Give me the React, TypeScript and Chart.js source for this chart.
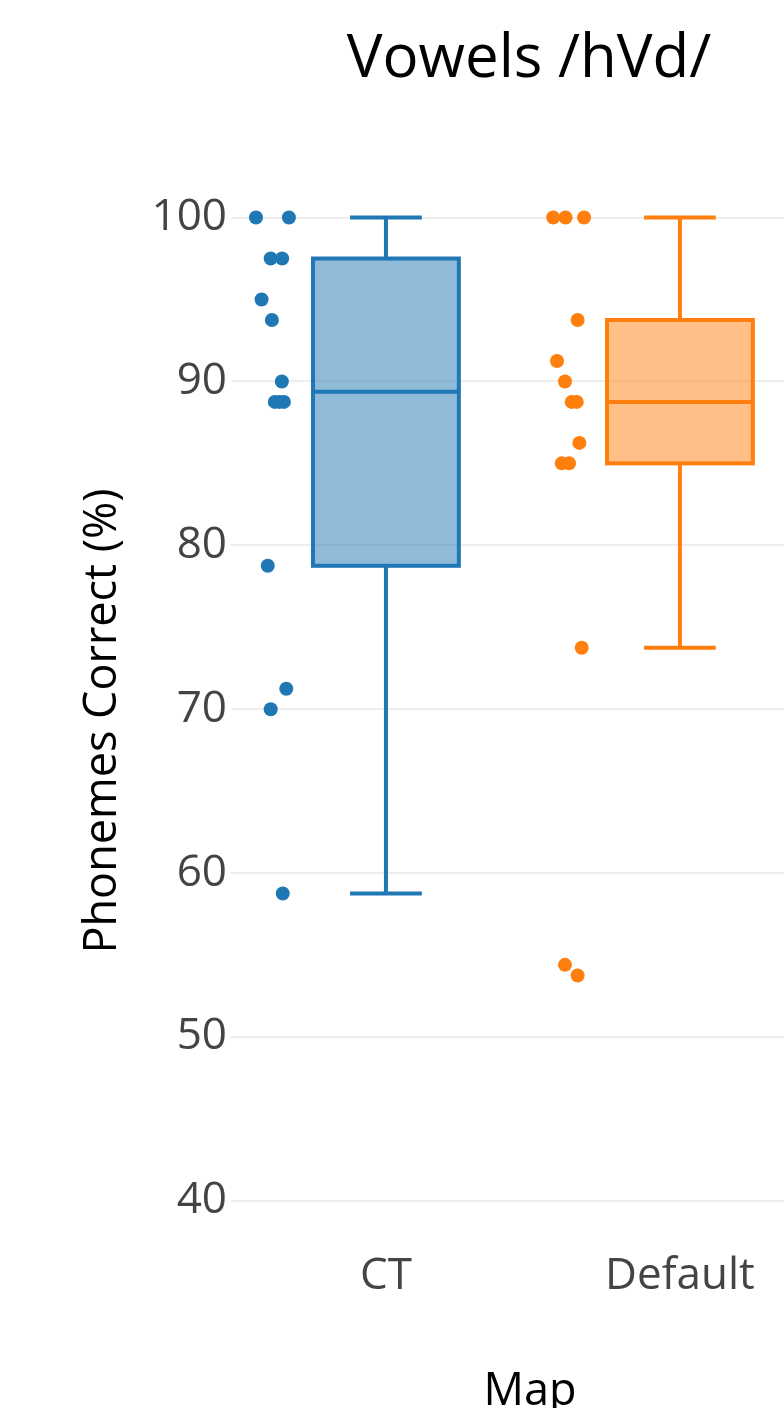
import React, { useEffect, useRef } from "react";
import { Chart, registerables } from "chart.js";

Chart.register(...registerables);

// ---- data ----
const categories = ["CT", "Default"];
const yTickValues = [40, 50, 60, 70, 80, 90, 100];

const ctPoints = [100, 100, 97.5, 97.5, 95, 93.75, 90, 88.75, 88.75, 88.75, 78.75, 71.25, 70, 58.75];
const ctJitter = [-0.442, -0.33, -0.392, -0.353, -0.423, -0.388, -0.354, -0.378, -0.347, -0.362, -0.402, -0.339, -0.392, -0.351];

const defaultPoints = [100, 100, 100, 93.75, 91.25, 90, 88.75, 88.75, 86.25, 85, 85, 73.75, 54.4, 53.75];
const defaultJitter = [-0.431, -0.389, -0.326, -0.348, -0.418, -0.391, -0.368, -0.351, -0.342, -0.402, -0.377, -0.334, -0.391, -0.348];

const boxMin = [58.75, 73.75];
const boxQ1 = [78.75, 85];
const boxMedian = [89.375, 88.75];
const boxQ3 = [97.5, 93.75];
const boxMax = [100, 100];

const lineColors = ["#1f77b4", "#ff7f0e"];
const fillColors = ["rgba(31,119,180,0.5)", "rgba(255,127,14,0.5)"];

const FONT = "'Open Sans', 'DejaVu Sans', sans-serif";

const boxPlugin = {
  id: "boxPlot",
  beforeDatasetsDraw(chart: any) {
    const { ctx, scales } = chart;
    const x = scales.x;
    const y = scales.y;
    ctx.save();
    categories.forEach((_, i) => {
      const cx = x.getPixelForValue(i);
      const l = x.getPixelForValue(i - 0.248);
      const r = x.getPixelForValue(i + 0.248);
      const cl = x.getPixelForValue(i - 0.122);
      const cr = x.getPixelForValue(i + 0.122);
      const yMin = y.getPixelForValue(boxMin[i]);
      const yQ1 = y.getPixelForValue(boxQ1[i]);
      const yMed = y.getPixelForValue(boxMedian[i]);
      const yQ3 = y.getPixelForValue(boxQ3[i]);
      const yMax = y.getPixelForValue(boxMax[i]);
      ctx.fillStyle = fillColors[i];
      ctx.fillRect(l, yQ3, r - l, yQ1 - yQ3);
      ctx.strokeStyle = lineColors[i];
      ctx.lineWidth = 4;
      ctx.lineCap = "butt";
      ctx.strokeRect(l, yQ3, r - l, yQ1 - yQ3);
      ctx.beginPath();
      ctx.moveTo(l, yMed);
      ctx.lineTo(r, yMed);
      ctx.moveTo(cx, yQ3);
      ctx.lineTo(cx, yMax);
      ctx.moveTo(cx, yQ1);
      ctx.lineTo(cx, yMin);
      ctx.moveTo(cl, yMax);
      ctx.lineTo(cr, yMax);
      ctx.moveTo(cl, yMin);
      ctx.lineTo(cr, yMin);
      ctx.stroke();
    });
    ctx.restore();
  },
};

const textPlugin = {
  id: "plotTexts",
  afterDraw(chart: any) {
    const { ctx } = chart;
    ctx.save();
    ctx.fillStyle = "#000";
    ctx.textAlign = "center";
    ctx.textBaseline = "alphabetic";
    ctx.font = `60px ${FONT}`;
    ctx.fillText("Vowels /hVd/", 529, 77);
    ctx.font = `45px ${FONT}`;
    ctx.fillText("Map", 530, 1405);
    ctx.translate(116, 721);
    ctx.rotate(-Math.PI / 2);
    ctx.fillText("Phonemes Correct (%)", 0, 0);
    ctx.restore();
  },
};

export default function App() {
  const ref = useRef<HTMLCanvasElement | null>(null);
  useEffect(() => {
    document.body.style.margin = "0";
    const canvas = ref.current;
    if (!canvas) return;
    const chart = new Chart(canvas, {
      type: "scatter",
      data: {
        datasets: [
          {
            label: categories[0],
            data: ctPoints.map((v, i) => ({ x: 0 + ctJitter[i], y: v })),
            backgroundColor: lineColors[0],
            borderWidth: 0,
            pointRadius: 7,
          },
          {
            label: categories[1],
            data: defaultPoints.map((v, i) => ({ x: 1 + defaultJitter[i], y: v })),
            backgroundColor: lineColors[1],
            borderWidth: 0,
            pointRadius: 7,
          },
        ],
      },
      options: {
        animation: false,
        responsive: false,
        events: [],
        layout: { autoPadding: false, padding: { top: 152, left: 0, right: 0, bottom: 0 } },
        plugins: {
          legend: { display: false },
          tooltip: { enabled: false },
          title: { display: false },
        },
        scales: {
          x: {
            type: "linear",
            min: -0.527,
            max: 1.354,
            afterBuildTicks: (s: any) => {
              s.ticks = categories.map((_, i) => ({ value: i }));
            },
            afterFit: (s: any) => {
              s.height = 158;
            },
            ticks: {
              callback: (v: any) => categories[v as number] ?? "",
              font: { family: FONT, size: 44 },
              color: "#444",
              padding: 0,
              maxRotation: 0,
              autoSkip: false,
            },
            grid: { display: false, drawTicks: false },
            border: { display: false },
          },
          y: {
            type: "linear",
            min: 37,
            max: 104,
            afterBuildTicks: (s: any) => {
              s.ticks = yTickValues.map((v) => ({ value: v }));
            },
            afterFit: (s: any) => {
              s.width = 231;
            },
            ticks: {
              font: { family: FONT, size: 44 },
              color: "#444",
              padding: 4,
            },
            grid: { color: "#eeeeee", lineWidth: 2, drawTicks: false },
            border: { display: false },
          },
        },
      },
      plugins: [boxPlugin, textPlugin],
    });
    return () => chart.destroy();
  }, []);
  return (
    <canvas
      ref={ref}
      width={784}
      height={1408}
      style={{ display: "block", width: 784, height: 1408 }}
    />
  );
}
